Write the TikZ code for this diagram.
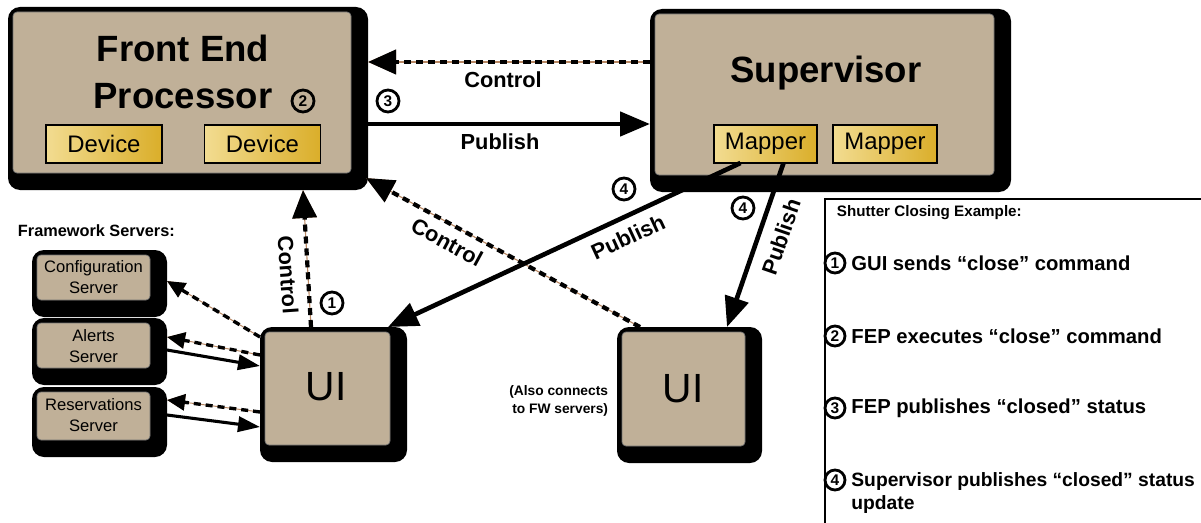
\documentclass[tikz,border=0pt]{standalone}
\usepackage{fontspec}
\setmainfont{Liberation Sans}
\usepackage{xcolor}
\usetikzlibrary{arrows.meta,fit}
\definecolor{boxtan}{RGB}{192,176,152}
\definecolor{devlight}{RGB}{242,220,145}
\definecolor{devdark}{RGB}{218,174,42}
\definecolor{wire}{RGB}{184,136,100}

\begin{document}
\begin{tikzpicture}[x=0.25mm,y=-0.25mm,
    box/.style={fill=black,rounded corners=3mm,inner sep=0pt,outer sep=0pt,
      path picture={\filldraw[boxtan,draw=black!55,line width=0.5pt,rounded corners=1mm]
        ([shift={(5,5)}]path picture bounding box.north west) rectangle
        ([shift={(-17,-17)}]path picture bounding box.south east);}},
    unit/.style={draw=black,line width=1.4pt,left color=devlight,right color=devdark,
      inner sep=0pt,outer sep=0pt,minimum height=9.5mm,font=\fontsize{17}{20}\selectfont},
    num/.style={circle,draw=black,line width=2pt,inner sep=0pt,minimum size=5.5mm,
      font=\bfseries\fontsize{11}{11}\selectfont},
    lbl/.style={font=\bfseries\fontsize{15.5}{18}\selectfont},
    pub/.style={line width=3.3pt,-{Triangle[length=7.5mm,width=6mm]}},
    ctrl/.style={line width=3pt,dash pattern=on 5pt off 3.5pt,
      preaction={draw=wire,line width=0.8pt,solid},-{Triangle[length=7mm,width=6mm]}},
    spub/.style={line width=2.2pt,-{Triangle[length=5.5mm,width=3.8mm]}},
    sctrl/.style={line width=2.4pt,dash pattern=on 5pt off 3.5pt,
      preaction={draw=wire,line width=0.7pt,solid},-{Triangle[length=4.5mm,width=4mm]}},
    srv/.style={font=\fontsize{11.8}{15}\selectfont,align=center},
    key/.style={anchor=west,font=\bfseries\fontsize{14.4}{16}\selectfont}]
  \useasboundingbox (0,0) rectangle (1201,523);

  % main boxes
  \node[box,fit={(8,7) (368,190)}] (FEP) {};
  \node[box,fit={(650,9) (1011,192)}] (SUP) {};
  \node[box,fit={(260,327) (407,462)}] (UIa) {};
  \node[box,fit={(617,327) (762,463)}] (UIb) {};
  \node[box,fit={(32,250) (167,317)}] (CFG) {};
  \node[box,fit={(32,318) (167,385)}] (ALR) {};
  \node[box,fit={(32,387) (167,457)}] (RES) {};

  \node[align=center,font=\bfseries\fontsize{26}{34}\selectfont] (FT) at (183,72) {Front End\\Processor};
  \node[num] (N2) at (303,101) {2};
  \node[unit,minimum width=29mm] (D1) at (104,144) {Device};
  \node[unit,minimum width=29mm] (D2) at (262.5,144) {Device};

  \node[font=\bfseries\fontsize{26}{34}\selectfont] (ST) at (826,73) {Supervisor};
  \node[unit,minimum width=25.8mm] (M1) at (765.5,144) {Mapper};
  \node[unit,minimum width=26mm] (M2) at (885,144) {Mapper};

  \node[font=\fontsize{29}{34}\selectfont] (U1) at (326,387) {UI};
  \node[font=\fontsize{29}{34}\selectfont] (U2) at (683,389) {UI};

  \node[srv] (C1) at (93.5,277.5) {Configuration\\Server};
  \node[srv] (A1) at (93.5,346.5) {Alerts\\Server};
  \node[srv] (R1) at (93.5,415) {Reservations\\Server};
  \node[anchor=west,font=\bfseries\fontsize{11.6}{14}\selectfont] (FW) at (13,231) {Framework Servers:};
  \node[anchor=east,align=right,font=\bfseries\fontsize{9.8}{12.8}\selectfont] (AC) at (613,401) {(Also connects\\to FW servers)};

  % connectors
  \draw[ctrl] ([shift={(0,-38.5)}]SUP.west) -- ([shift={(0,-36.5)}]FEP.east);
  \draw[pub] ([shift={(0,25.5)}]FEP.east) -- ([shift={(0,23.5)}]SUP.west);
  \draw[ctrl] ([shift={(-22.5,0)}]UIa.north) -- ([shift={(115,0)}]FEP.south);
  \draw[ctrl] ([shift={(-49.5,0)}]UIb.north) -- ([shift={(-2,-12)}]FEP.south east);
  \draw[pub] ([shift={(-25,0)}]M1.south) -- ([shift={(-19,0)}]UIa.north east);
  \draw[pub] ([shift={(18,0)}]M1.south) -- ([shift={(37.5,0)}]UIb.north);

  \draw[sctrl] ([shift={(0,-57.5)}]UIa.west) -- ([shift={(0,-2.5)}]CFG.east);
  \draw[sctrl] ([shift={(0,-39.5)}]UIa.west) -- ([shift={(0,-14.5)}]ALR.east);
  \draw[spub] ([shift={(0,-1.5)}]ALR.east) -- ([shift={(0,-28.5)}]UIa.west);
  \draw[sctrl] ([shift={(0,17.5)}]UIa.west) -- ([shift={(0,-22)}]RES.east);
  \draw[spub] ([shift={(0,-7)}]RES.east) -- ([shift={(0,32.5)}]UIa.west);

  % connector labels
  \node[lbl] (L1) at (503,80) {Control};
  \node[lbl] (L2) at (500,142) {Publish};
  \node[lbl,rotate=-86] (L3) at (288,275) {Control};
  \node[lbl,rotate=-28.5] (L4) at (447,242) {Control};
  \node[lbl,rotate=24.9] (L5) at (628,237) {Publish};
  \node[lbl,rotate=71] (L6) at (781,237) {Publish};
  \node[num] (N3) at (388,101) {3};
  \node[num] (N1) at (332,303) {1};
  \node[num] (N4a) at (624,189) {4};
  \node[num] (N4b) at (743,208) {4};

  % legend
  \draw[line width=1.3pt] (825,530) -- (825,199) -- (1210,199);
  \node[anchor=west,font=\bfseries\fontsize{10.8}{13}\selectfont] (LT) at (832,213) {Shutter Closing Example:};
  \foreach \n/\y/\t in {1/263/GUI sends “close” command,
                        2/336/FEP executes “close” command,
                        3/408/FEP publishes “closed” status}{
    \node[num,minimum size=5mm] (K\n) at (835,\y) {\n};
    \node[key] (KT\n) at (K\n.east) {\t};
  }
  \node[num,minimum size=5mm] (K4) at (835,480) {4};
  \node[key,anchor=north west,align=left,font=\bfseries\fontsize{13.7}{16}\selectfont] (KT4) at ([yshift=3.1mm]K4.east) {Supervisor publishes “closed” status\\update};
\end{tikzpicture}
\end{document}
